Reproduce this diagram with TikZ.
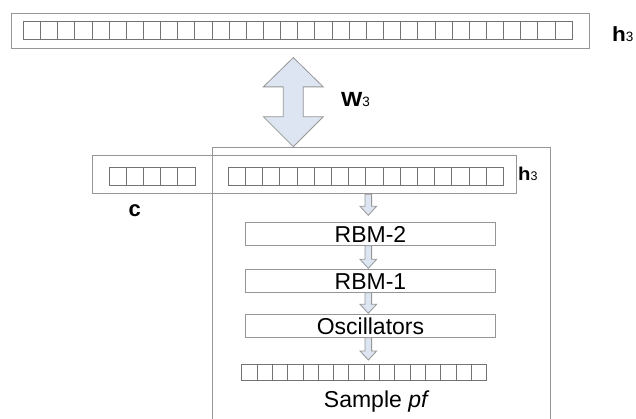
\documentclass[tikz,border=0pt]{standalone}
\usepackage{fontspec}
\setmainfont{Liberation Sans}
\usetikzlibrary{calc}

\definecolor{boxgray}{RGB}{150,150,150}
\definecolor{cellgray}{RGB}{115,115,115}
\definecolor{arrowfill}{RGB}{221,229,242}

% a row of #3 square cells, top left corner at (#1,#2)
\newcommand{\cellrow}[5]{%
  \foreach \i in {1,...,#3}
    \draw [cellline] ({#1+(\i-1)*#4},#2) rectangle ++(#4,#5);
}

% small downward block arrow, tip #3 above the target
\newcommand{\flowarrow}[3]{%
  \draw [blockarrow] let \p1=(#1), \p2=(#2) in
    (\x1-3.3pt,\y1) -- (\x1+3.3pt,\y1) -- (\x1+3.3pt,\y2+#3+9pt)
    -- (\x1+8.3pt,\y2+#3+9pt) -- (\x1,\y2+#3) -- (\x1-8.3pt,\y2+#3+9pt)
    -- (\x1-3.3pt,\y2+#3+9pt) -- cycle;
}

% bold letter with a plain index
\newcommand{\idx}[3]{\scalebox{1.1}[1]{#1}{\fontsize{#3}{#3}\selectfont\mdseries #2}}

\begin{document}
\begin{tikzpicture}[x=1pt,y=-1pt]
    \tikzstyle{every node}+=[inner sep=0pt]
    \tikzstyle{panel}=[draw=boxgray, line width=0.9pt, rectangle, anchor=north west]
    \tikzstyle{cellline}=[draw=cellgray, line width=0.8pt]
    \tikzstyle{stage}=[panel, minimum width=250, minimum height=22.5, text height=16.5pt, text depth=0pt, anchor=north west, font=\fontsize{23}{26}\selectfont]
    \tikzstyle{blockarrow}=[draw=boxgray, fill=arrowfill, line width=0.8pt, line join=miter]
    \tikzstyle{boldlabel}=[anchor=base west, font=\fontsize{20.5}{22}\selectfont\bfseries]
    \useasboundingbox (0,0) rectangle (636,419);

    \node [panel, minimum width=578.3, minimum height=34.7] (htop) at (10.7,13.3) {};
    \cellrow{23.3}{21.7}{32}{17.15}{17.6}
    \node [boldlabel] (htoplbl) at (612,42) {\idx{h}{3}{13.5}};

    \node [panel, minimum width=338.3, minimum height=290] (gen) at (211.7,147.3) {};
    \node [panel, minimum width=424.3, minimum height=38.3] (hmid) at (91.7,155) {};
    \cellrow{109}{167.3}{5}{17.2}{17.7}
    \cellrow{228.3}{167.3}{16}{17.19}{17.7}
    \node [boldlabel, font=\fontsize{18.5}{20}\selectfont\bfseries] (hmidlbl) at (518,181) {\idx{h}{3}{12.5}};
    \node [boldlabel, font=\fontsize{22}{24}\selectfont\bfseries] (clbl) at (128.5,217) {c};

    \coordinate (wx) at (293.3,100);
    \draw [blockarrow] let \p1=(wx |- htop.south), \p2=(wx |- gen.north) in
        (\x1,\y1-8.7pt) -- (\x1+30pt,\y1-38pt) -- (\x1+10pt,\y1-38pt)
        -- (\x1+10pt,\y2+30.6pt) -- (\x1+30pt,\y2+30.6pt) -- (\x1,\y2+0.6pt)
        -- (\x1-30pt,\y2+30.6pt) -- (\x1-10pt,\y2+30.6pt) -- (\x1-10pt,\y1-38pt)
        -- (\x1-30pt,\y1-38pt) -- cycle;
    \node [boldlabel] (wlbl) at (341,107) {\idx{W}{3}{13.5}};

    \node [stage] (rbm2) at (245,222.3) {RBM-2};
    \node [stage] (rbm1) at (245,269.3) {RBM-1};
    \node [stage] (osc) at (245,314.3) {Oscillators};
    \cellrow{241.7}{364.3}{16}{15.31}{15.7}
    \coordinate (sample) at (364.2,364.3);
    \node [anchor=base, font=\fontsize{23}{26}\selectfont] (samplelbl) at (376.7,407) {Sample \textit{pf}};

    \coordinate (spine) at (368.3,0);
    \flowarrow{spine |- hmid.south}{spine |- rbm2.north}{7pt}
    \flowarrow{spine |- rbm2.south}{spine |- rbm1.north}{1pt}
    \flowarrow{spine |- rbm1.south}{spine |- osc.north}{1pt}
    \flowarrow{spine |- osc.south}{spine |- sample}{4.3pt}
\end{tikzpicture}
\end{document}
